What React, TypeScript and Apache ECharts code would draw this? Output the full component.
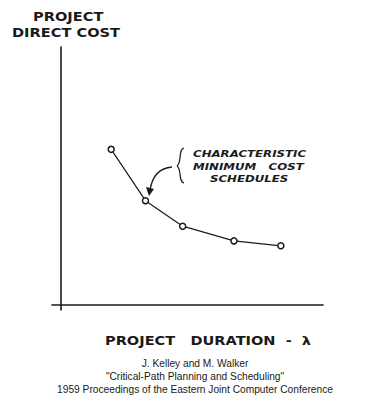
import React, { useEffect, useRef } from "react";
import * as echarts from "echarts";

const durations = [1.91, 3.22, 4.64, 6.6, 8.39];
const costs = [6.03, 4.04, 3.05, 2.48, 2.29];
const yTitleLines = ["PROJECT", "DIRECT COST"];
const xTitle = "PROJECT   DURATION  -  λ";
const annotationLines = ["CHARACTERISTIC", "MINIMUM   COST", "SCHEDULES"];
const citationLines = [
  "J. Kelley and M. Walker",
  "\"Critical-Path Planning and Scheduling\"",
  "1959 Proceedings of the Eastern Joint Computer Conference",
];

const ink = "#1a1a1a";
const hand = "'DejaVu Sans', sans-serif";

export default function App() {
  const ref = useRef<HTMLDivElement>(null);
  useEffect(() => {
    if (!ref.current) return;
    const chart = echarts.init(ref.current, undefined, { renderer: "svg" });
    chart.setOption({
      animation: false,
      backgroundColor: "#ffffff",
      grid: { left: 52, top: 47, width: 271, height: 263, containLabel: false },
      xAxis: {
        type: "value",
        min: -0.35,
        max: 10,
        axisLine: { onZero: true, lineStyle: { color: ink, width: 1.6 } },
        axisTick: { show: false },
        axisLabel: { show: false },
        splitLine: { show: false },
      },
      yAxis: {
        type: "value",
        min: -0.2,
        max: 10,
        axisLine: { show: true, onZero: true, lineStyle: { color: ink, width: 1.6 } },
        axisTick: { show: false },
        axisLabel: { show: false },
        splitLine: { show: false },
      },
      series: [
        {
          type: "line",
          data: durations.map((d, i) => [d, costs[i]]),
          symbol: "circle",
          symbolSize: 6,
          showSymbol: true,
          lineStyle: { color: ink, width: 1.2 },
          itemStyle: { color: "#ffffff", borderColor: ink, borderWidth: 1.5 },
        },
      ],
      graphic: [
        {
          type: "text",
          x: 33,
          y: 17,
          scaleX: 1.27,
          style: { text: yTitleLines[0], font: `bold 11.5px ${hand}`, fill: ink, textVerticalAlign: "middle" },
        },
        {
          type: "text",
          x: 12,
          y: 33,
          scaleX: 1.27,
          style: { text: yTitleLines[1], font: `bold 11.5px ${hand}`, fill: ink, textVerticalAlign: "middle" },
        },
        {
          type: "text",
          x: 105,
          y: 340,
          scaleX: 1.12,
          style: { text: xTitle, font: `bold 13px ${hand}`, fill: ink, textVerticalAlign: "middle" },
        },
        ...annotationLines.map((t, i) => ({
          type: "text",
          x: [193, 193, 210][i],
          y: [154, 166.5, 179][i],
          scaleX: 1.24,
          style: { text: t, font: `italic bold 9.5px ${hand}`, fill: ink, textVerticalAlign: "middle" },
        })),
        {
          type: "bezierCurve",
          shape: { x1: 184, y1: 148, cpx1: 178, cpy1: 149, x2: 177, y2: 166, cpx2: 182, cpy2: 163 },
          style: { stroke: ink, lineWidth: 1.2, fill: "none" },
        },
        {
          type: "bezierCurve",
          shape: { x1: 177, y1: 166, cpx1: 182, cpy1: 169, x2: 184, y2: 183, cpx2: 178, cpy2: 182 },
          style: { stroke: ink, lineWidth: 1.2, fill: "none" },
        },
        {
          type: "bezierCurve",
          shape: { x1: 172, y1: 167, cpx1: 158, cpy1: 168, x2: 150, y2: 190, cpx2: 152, cpy2: 178 },
          style: { stroke: ink, lineWidth: 1.3, fill: "none" },
        },
        {
          type: "polygon",
          shape: { points: [[146, 187], [154, 189], [149, 196]] },
          style: { fill: ink },
        },
        ...citationLines.map((t, i) => ({
          type: "text",
          x: 195,
          y: [363, 376, 389][i],
          style: {
            text: t,
            font: `normal 10.2px 'Liberation Sans', Arial, sans-serif`,
            fill: ink,
            textAlign: "center",
            textVerticalAlign: "middle",
          },
        })),
      ],
    });
    return () => chart.dispose();
  }, []);
  return (
    <div
      ref={ref}
      style={{ position: "fixed", left: 0, top: 0, width: 372, height: 400, background: "#fff" }}
    />
  );
}
